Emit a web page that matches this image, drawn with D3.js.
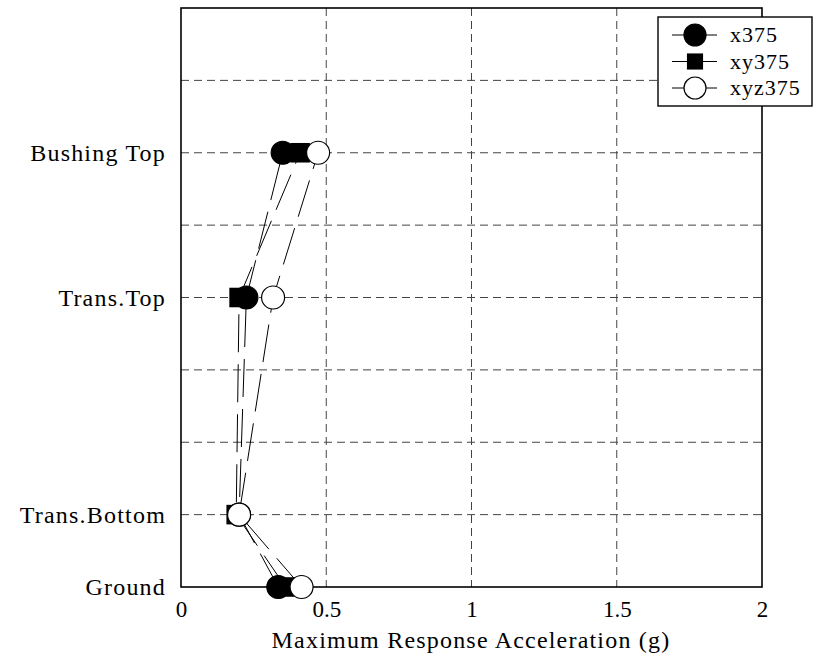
<!DOCTYPE html>
<html><head><meta charset="utf-8">
<script src="https://cdn.jsdelivr.net/npm/d3@7"></script>
<style>body{margin:0;background:#fff}</style>
</head><body><svg id="c" width="817" height="663"></svg>
<script>
const levels = ["Ground","Trans.Bottom","Trans.Top","Bushing Top"];
const levelPos = [0,1,4,6];
const seriesNames = ["x375","xy375","xyz375"];
const x375 = [0.335,0.20,0.225,0.35];
const xy375 = [0.36,0.19,0.20,0.41];
const xyz375 = [0.415,0.20,0.317,0.472];
const xTicks = [0,0.5,1,1.5,2];
const xTickLabels = ["0","0.5","1","1.5","2"];
const yGrid = [1,2,3,4,5,6,7];
const FONT = "'Liberation Serif','DejaVu Serif',serif";

const svg = d3.select("#c");
const L=181,R=762,T=8,B=587;
const x = d3.scaleLinear().domain([0,2]).range([L,R]);
const y = d3.scaleLinear().domain([0,8]).range([B,T]);

// grid
svg.append("g").selectAll("line").data(xTicks.slice(1,-1)).join("line")
  .attr("x1",d=>x(d)).attr("x2",d=>x(d)).attr("y1",T).attr("y2",B)
  .attr("stroke","#444").attr("stroke-width",1).attr("stroke-dasharray","8,5");
svg.append("g").selectAll("line").data(yGrid).join("line")
  .attr("x1",L).attr("x2",R).attr("y1",d=>y(d)).attr("y2",d=>y(d))
  .attr("stroke","#444").attr("stroke-width",1).attr("stroke-dasharray","8,5");

// frame
svg.append("rect").attr("x",L).attr("y",T).attr("width",R-L).attr("height",B-T)
  .attr("fill","none").attr("stroke","#000").attr("stroke-width",1.6);

// axes labels
const xa = d3.axisBottom(x).tickValues(xTicks).tickFormat((d,i)=>xTickLabels[i]).tickSize(0).tickPadding(14);
const gx = svg.append("g").attr("transform",`translate(0,${B})`).call(xa)
  .attr("font-family",FONT).attr("font-size",23);
gx.select(".domain").remove();
gx.selectAll("text").style("font-family",FONT).style("font-size","23px").attr("fill","#000");
const ya = d3.axisLeft(y).tickValues(levelPos).tickFormat((d,i)=>levels[i]).tickSize(0).tickPadding(15);
const gy = svg.append("g").attr("transform",`translate(${L},0)`).call(ya)
  .attr("font-family",FONT).attr("font-size",24);
gy.select(".domain").remove();
gy.selectAll("text").style("font-family",FONT).style("font-size","24px").attr("letter-spacing",1.2).attr("fill","#000");

svg.append("text").attr("x",471).attr("y",648).attr("text-anchor","middle")
  .style("font-family",FONT).style("font-size","24px").attr("letter-spacing",1.2).text("Maximum Response Acceleration (g)");

// series
const data = [x375,xy375,xyz375];
const line = d3.line().x(d=>x(d[0])).y(d=>y(d[1]));
data.forEach((vals,si)=>{
  const pts = vals.map((v,i)=>[v,levelPos[i]]);
  svg.append("path").attr("d",line(pts)).attr("fill","none").attr("stroke","#000")
    .attr("stroke-width",1).attr("stroke-dasharray","38,12");
});
function marker(g,si,cx,cy,s){
  if(si===1){
    g.append("rect").attr("x",cx-s*0.85).attr("y",cy-s*0.85).attr("width",s*1.7).attr("height",s*1.7).attr("fill","#000");
  } else {
    g.append("circle").attr("cx",cx).attr("cy",cy).attr("r",s)
      .attr("fill",si===0?"#000":"#fff").attr("stroke","#000").attr("stroke-width",1.2);
  }
}
const mg = svg.append("g");
data.forEach((vals,si)=>{
  vals.forEach((v,i)=>marker(mg,si,x(v),y(levelPos[i]),11.5));
});

// legend
const lg = svg.append("g");
lg.append("rect").attr("x",658).attr("y",17).attr("width",154).attr("height",89)
  .attr("fill","#fff").attr("stroke","#000").attr("stroke-width",1.4);
seriesNames.forEach((n,i)=>{
  const yy = 35+i*26.5;
  lg.append("line").attr("x1",672).attr("x2",717).attr("y1",yy).attr("y2",yy).attr("stroke","#000").attr("stroke-width",1);
  marker(lg,i,695,yy,i===1?9.5:11);
  lg.append("text").attr("x",730).attr("y",yy+7).style("font-family",FONT).style("font-size","22px").attr("letter-spacing",1).text(n);
});
</script></body></html>
